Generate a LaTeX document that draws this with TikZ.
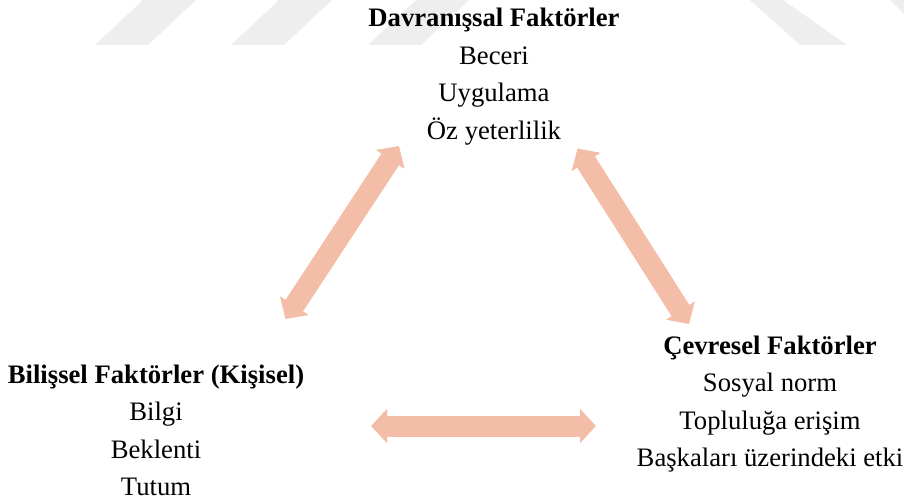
\documentclass[tikz,border=0pt]{standalone}
\usepackage{fontspec}
\setmainfont{Liberation Serif}
\usetikzlibrary{arrows.meta}
\definecolor{arrowsalmon}{RGB}{244,189,168}
\definecolor{wmgray}{RGB}{238,238,238}

\begin{document}
\begin{tikzpicture}[x=0.75pt,y=-0.75pt,
    txt/.style={anchor=base,font=\fontsize{20}{24}\selectfont},
    head/.style={txt,font=\fontsize{20}{24}\selectfont\bfseries},
    twoway/.style={draw=arrowsalmon,line width=15.75pt,
      {Triangle[width=25pt,length=12pt]}-{Triangle[width=25pt,length=12pt]}}]
  \useasboundingbox (0,0) rectangle (904,503);
  % faint watermark stripes
  \foreach \s in {95,231,368} \fill[wmgray] (\s,45) -- +(53,0) -- +(101,-45) -- +(48,-45) -- cycle;
  \fill[wmgray] (750,0) -- (783,0) -- (847,45) -- (800,45) -- cycle;
  \fill[wmgray] (890,0) -- (904,0) -- (904,14) -- cycle;
  % three groups of factors
  \node[head] (dav) at (494,27) {Davranışsal Faktörler};
  \node[txt] (dav1) at (494,64.5) {Beceri}; \node[txt] (dav2) at (494,102) {Uygulama};
  \node[txt] (dav3) at (494,139.5) {Öz yeterlilik};
  \node[head] (bil) at (156,383) {Bilişsel Faktörler (Kişisel)};
  \node[txt] (bil1) at (156,420.5) {Bilgi}; \node[txt] (bil2) at (156,458) {Beklenti};
  \node[txt] (bil3) at (156,495.5) {Tutum};
  \node[head] (cev) at (770,354) {Çevresel Faktörler};
  \node[txt] (cev1) at (770,391.5) {Sosyal norm}; \node[txt] (cev2) at (770,429) {Topluluğa erişim};
  \node[txt] (cev3) at (770,466.5) {Başkaları üzerindeki etki};
  % arrow ends
  \coordinate (bilup) at (285.5,319); \coordinate (davleft) at (399,146);
  \coordinate (davright) at (577.5,148.5); \coordinate (cevup) at (689,324);
  \coordinate (bilright) at (371,426); \coordinate (cevleft) at (596,426);
  \draw[twoway] (bilup) -- (davleft); \draw[twoway] (davright) -- (cevup);
  \draw[twoway] (bilright) -- (cevleft);
\end{tikzpicture}
\end{document}
